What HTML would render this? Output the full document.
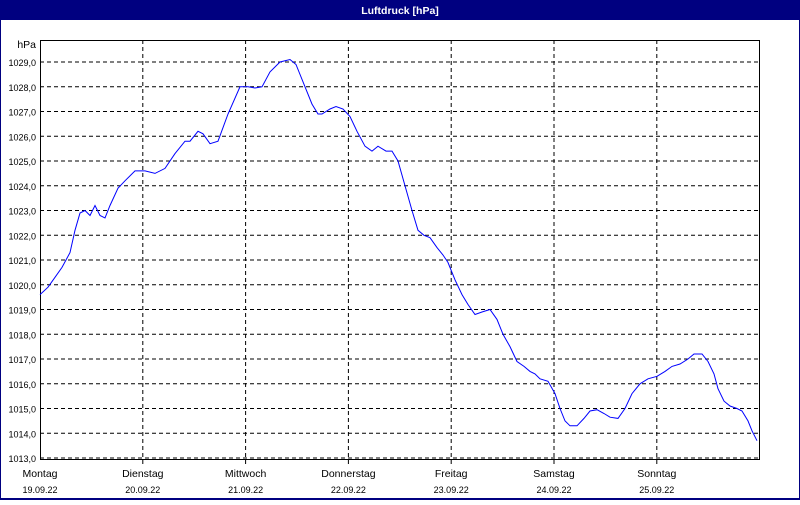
<!DOCTYPE html>
<html><head><meta charset="utf-8"><style>
body{margin:0;width:800px;height:500px;overflow:hidden;background:#fff;font-family:"Liberation Sans",sans-serif}
</style></head><body>
<svg id="s" width="800" height="500" xmlns="http://www.w3.org/2000/svg" font-family="Liberation Sans, sans-serif" font-size="11">
<rect x="0" y="0" width="800" height="500" fill="#fff"/>
<rect x="0" y="0" width="800" height="20" fill="#000080"/>
<rect x="0.5" y="0.5" width="799" height="499" fill="none" stroke="#000080"/>
<rect x="0" y="498" width="800" height="2" fill="#000080"/>
<text x="400" y="14" fill="#fff" font-weight="bold" text-anchor="middle" font-size="10.5">Luftdruck [hPa]</text>
<g id="g"></g>
</svg>
<script>
const g=document.getElementById('g');let h='';
const Y=p=>458-(p-1013)*24.75;
for(let p=1013;p<=1029;p++){const y=Y(p).toFixed(1);
h+=`<line x1="40" x2="760" y1="${y}" y2="${y}" stroke="#000" stroke-dasharray="4,3"/>`;
h+=`<text x="36" y="${+y+4}" text-anchor="end" font-size="9">${p},0</text>`;}
h+=`<text x="36" y="48" text-anchor="end" font-size="10.5">hPa</text>`;
const days=[["Montag","19.09.22"],["Dienstag","20.09.22"],["Mittwoch","21.09.22"],["Donnerstag","22.09.22"],["Freitag","23.09.22"],["Samstag","24.09.22"],["Sonntag","25.09.22"]];
days.forEach((d,i)=>{const x=40+i*102.8;
if(i>0)h+=`<line x1="${x}" x2="${x}" y1="40" y2="464" stroke="#000" stroke-dasharray="4,3"/>`;
h+=`<text x="${x}" y="477" text-anchor="middle" font-size="10.5">${d[0]}</text><text x="${x}" y="493" text-anchor="middle" font-size="9">${d[1]}</text>`;});
h+=`<rect x="40.5" y="40.5" width="719" height="419" fill="none" stroke="#000"/>`;
const d=[[40,1019.6],[48,1019.9],[55,1020.3],[62,1020.7],[70,1021.3],[75,1022.2],[80,1022.9],[85,1023.0],[90,1022.8],[95,1023.2],[100,1022.8],[105,1022.7],[110,1023.2],[118,1023.9],[125,1024.2],[135,1024.6],[145,1024.6],[155,1024.5],[165,1024.7],[175,1025.3],[185,1025.8],[190,1025.8],[198,1026.2],[203,1026.1],[210,1025.7],[218,1025.8],[228,1026.9],[240,1028.0],[248,1028.0],[255,1027.95],[262,1028.0],[270,1028.6],[280,1029.0],[290,1029.1],[296,1028.9],[305,1028.0],[312,1027.3],[318,1026.9],[322,1026.9],[330,1027.1],[336,1027.2],[343,1027.1],[350,1026.8],[357,1026.2],[365,1025.6],[372,1025.4],[378,1025.6],[386,1025.4],[392,1025.4],[398,1025.0],[405,1024.0],[412,1023.0],[418,1022.2],[424,1022.0],[430,1021.9],[437,1021.5],[443,1021.2],[448,1020.9],[455,1020.2],[462,1019.6],[468,1019.2],[475,1018.8],[482,1018.9],[490,1019.0],[497,1018.6],[503,1018.0],[510,1017.5],[517,1016.9],[524,1016.7],[530,1016.5],[535,1016.4],[540,1016.2],[548,1016.1],[555,1015.6],[560,1015.0],[565,1014.5],[570,1014.3],[577,1014.3],[584,1014.6],[590,1014.9],[597,1014.95],[604,1014.8],[610,1014.65],[618,1014.6],[625,1015.0],[632,1015.6],[640,1016.0],[648,1016.2],[657,1016.3],[665,1016.5],[672,1016.7],[680,1016.8],[688,1017.0],[694,1017.2],[702,1017.2],[708,1016.9],[714,1016.4],[718,1015.8],[724,1015.3],[730,1015.1],[737,1015.0],[742,1014.9],[748,1014.5],[752,1014.1],[757,1013.7]];
h+=`<polyline fill="none" stroke="#0000ff" stroke-width="1" points="${d.map(p=>p[0]+','+Y(p[1]).toFixed(1)).join(' ')}"/>`;
g.innerHTML=h;
</script>
</body></html>
